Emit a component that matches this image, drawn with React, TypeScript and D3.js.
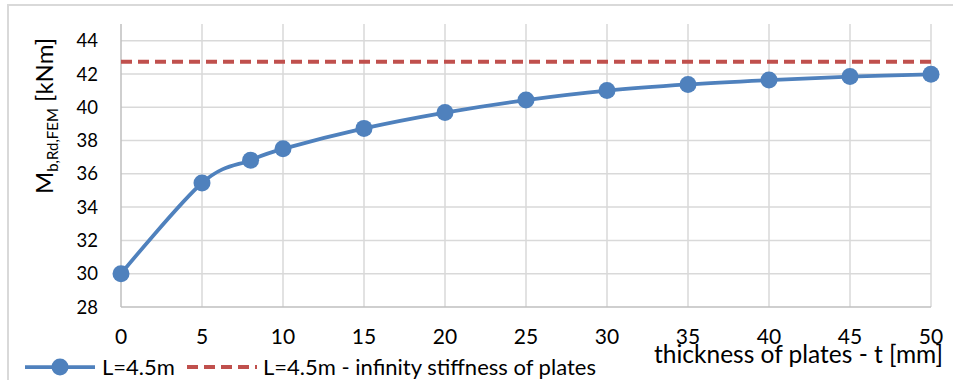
import { useEffect, useRef } from 'react';
import * as d3 from 'd3';

// thickness of plates t [mm]
const thickness = [0, 5, 8, 10, 15, 20, 25, 30, 35, 40, 45, 50];
// M_b,Rd,FEM [kNm] for L=4.5m
const moment = [30.0, 35.45, 36.82, 37.5, 38.73, 39.68, 40.43, 41.0, 41.37, 41.63, 41.84, 41.98];
// infinity stiffness of plates
const infinityLevel = 42.73;
const xTicks = [0, 5, 10, 15, 20, 25, 30, 35, 40, 45, 50];
const yTicks = [28, 30, 32, 34, 36, 38, 40, 42, 44];
const seriesNames = ['L=4.5m', 'L=4.5m - infinity stiffness of plates'];

const FONT = 'Lato, "Open Sans", sans-serif';

export default function App() {
  const svgRef = useRef<SVGSVGElement>(null);

  useEffect(() => {
    if (!svgRef.current) return;
    const width = 953;
    const height = 380;
    const svg = d3.select(svgRef.current);
    svg.selectAll('*').remove();

    const x = d3.scaleLinear().domain([0, 50]).range([121, 931]);
    const y = d3.scaleLinear().domain([28, 45]).range([307, 24]);

    // outer chart frame (runs off the window on right/bottom)
    svg.append('rect')
      .attr('x', 8).attr('y', 5)
      .attr('width', width + 20).attr('height', height + 20)
      .attr('fill', 'none').attr('stroke', '#d9d9d9').attr('stroke-width', 2);

    // gridlines
    svg.append('g')
      .selectAll('line')
      .data(yTicks.slice(1))
      .enter()
      .append('line')
      .attr('x1', x(0)).attr('x2', x(50))
      .attr('y1', (d) => y(d)).attr('y2', (d) => y(d))
      .attr('stroke', '#d9d9d9').attr('stroke-width', 1.5);

    svg.append('g')
      .selectAll('line')
      .data(xTicks.slice(1))
      .enter()
      .append('line')
      .attr('x1', (d) => x(d)).attr('x2', (d) => x(d))
      .attr('y1', y(45)).attr('y2', y(28))
      .attr('stroke', '#d9d9d9').attr('stroke-width', 1.5);

    // axis lines
    svg.append('line')
      .attr('x1', x(0)).attr('x2', x(0))
      .attr('y1', y(45)).attr('y2', y(28))
      .attr('stroke', '#bfbfbf').attr('stroke-width', 1.5);
    svg.append('line')
      .attr('x1', x(0)).attr('x2', x(50))
      .attr('y1', y(28)).attr('y2', y(28))
      .attr('stroke', '#bfbfbf').attr('stroke-width', 1.5);

    // tick labels
    svg.append('g')
      .selectAll('text')
      .data(yTicks)
      .enter()
      .append('text')
      .attr('x', 98)
      .attr('y', (d) => y(d))
      .attr('dy', '0.36em')
      .attr('text-anchor', 'end')
      .attr('font-family', FONT)
      .attr('font-size', 18.5)
      .attr('fill', '#000')
      .text((d) => d);

    svg.append('g')
      .selectAll('text')
      .data(xTicks)
      .enter()
      .append('text')
      .attr('x', (d) => x(d))
      .attr('y', 344)
      .attr('text-anchor', 'middle')
      .attr('font-family', FONT)
      .attr('font-size', 21)
      .attr('fill', '#000')
      .text((d) => d);

    // y title
    const yt = svg.append('text')
      .attr('transform', 'translate(53,116) rotate(-90)')
      .attr('text-anchor', 'middle')
      .attr('font-family', FONT)
      .attr('font-size', 24)
      .attr('fill', '#000');
    yt.append('tspan').text('M');
    yt.append('tspan').attr('font-size', 15).attr('dy', 5).text('b,Rd,FEM');
    yt.append('tspan').attr('dy', -5).text(' [kNm]');

    // x title
    svg.append('text')
      .attr('x', 943).attr('y', 363)
      .attr('text-anchor', 'end')
      .attr('font-family', FONT)
      .attr('font-size', 24.5)
      .attr('fill', '#000')
      .text('thickness of plates - t [mm]');

    // infinity stiffness line
    svg.append('line')
      .attr('x1', x(0)).attr('x2', x(50))
      .attr('y1', y(infinityLevel)).attr('y2', y(infinityLevel))
      .attr('stroke', '#c0504d').attr('stroke-width', 4)
      .attr('stroke-dasharray', '11,6');

    // main series (Excel-like smoothing)
    const pts: [number, number][] = thickness.map((t, i) => [t, moment[i]]);
    const line = d3.line<[number, number]>()
      .x((d) => x(d[0]))
      .y((d) => y(d[1]))
      .curve(d3.curveCardinal.tension(0));
    svg.append('path')
      .attr('d', line(pts) || '')
      .attr('fill', 'none')
      .attr('stroke', '#4f81bd')
      .attr('stroke-width', 3.75);
    svg.append('g')
      .selectAll('circle')
      .data(pts)
      .enter()
      .append('circle')
      .attr('cx', (d) => x(d[0]))
      .attr('cy', (d) => y(d[1]))
      .attr('r', 8.5)
      .attr('fill', '#4f81bd');

    // legend
    const ly = 367;
    svg.append('line')
      .attr('x1', 25).attr('x2', 95).attr('y1', ly).attr('y2', ly)
      .attr('stroke', '#4f81bd').attr('stroke-width', 3.75);
    svg.append('circle').attr('cx', 60).attr('cy', ly).attr('r', 8.5).attr('fill', '#4f81bd');
    svg.append('text')
      .attr('x', 102).attr('y', ly).attr('dy', '0.36em')
      .attr('font-family', FONT).attr('font-size', 22).attr('fill', '#000')
      .text(seriesNames[0]);
    svg.append('line')
      .attr('x1', 187).attr('x2', 257).attr('y1', ly).attr('y2', ly)
      .attr('stroke', '#c0504d').attr('stroke-width', 4)
      .attr('stroke-dasharray', '11,6');
    svg.append('text')
      .attr('x', 263).attr('y', ly).attr('dy', '0.36em')
      .attr('font-family', FONT).attr('font-size', 22).attr('fill', '#000')
      .text(seriesNames[1]);

    return () => {
      svg.selectAll('*').remove();
    };
  }, []);

  return (
    <svg
      ref={svgRef}
      width={953}
      height={380}
      style={{ position: 'absolute', left: 0, top: 0, background: '#fff' }}
    />
  );
}
